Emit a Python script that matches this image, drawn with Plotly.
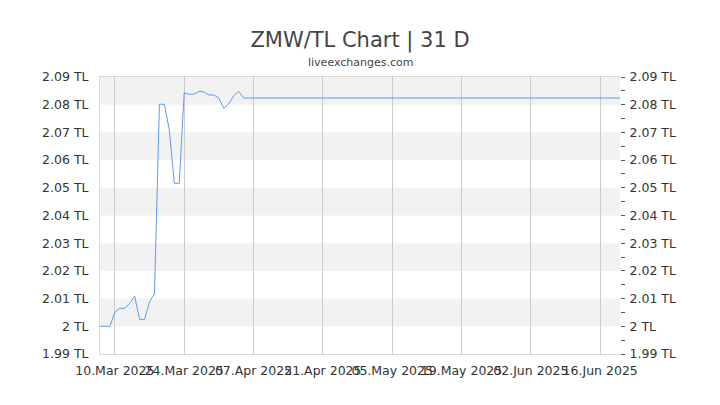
import plotly.graph_objects as go

# ZMW/TL daily rate
dates = [
    "2025-03-07", "2025-03-08", "2025-03-09", "2025-03-10", "2025-03-11",
    "2025-03-12", "2025-03-13", "2025-03-14", "2025-03-15", "2025-03-16",
    "2025-03-17", "2025-03-18", "2025-03-19", "2025-03-20", "2025-03-21",
    "2025-03-22", "2025-03-23", "2025-03-24", "2025-03-25", "2025-03-26",
    "2025-03-27", "2025-03-28", "2025-03-29", "2025-03-30", "2025-03-31",
    "2025-04-01", "2025-04-02", "2025-04-03", "2025-04-04", "2025-04-05",
    "2025-06-20",
]
rates = [
    2.0000, 2.0000, 2.0000, 2.0051, 2.0065,
    2.0065, 2.0083, 2.0109, 2.0025, 2.0025,
    2.0089, 2.0117, 2.0802, 2.0801, 2.0709,
    2.0516, 2.0516, 2.0843, 2.0838, 2.0838,
    2.0848, 2.0846, 2.0835, 2.0835, 2.0824,
    2.0787, 2.0803, 2.0832, 2.0848, 2.0824,
    2.0824,
]

x_ticks = ["2025-03-10", "2025-03-24", "2025-04-07", "2025-04-21",
           "2025-05-05", "2025-05-19", "2025-06-02", "2025-06-16"]
x_tick_labels = ["10.Mar 2025", "24.Mar 2025", "07.Apr 2025", "21.Apr 2025",
                 "05.May 2025", "19.May 2025", "02.Jun 2025", "16.Jun 2025"]
y_ticks = [1.99, 2.00, 2.01, 2.02, 2.03, 2.04, 2.05, 2.06, 2.07, 2.08, 2.09]
y_tick_labels = ["1.99 TL", "2 TL", "2.01 TL", "2.02 TL", "2.03 TL", "2.04 TL",
                 "2.05 TL", "2.06 TL", "2.07 TL", "2.08 TL", "2.09 TL"]
shaded_bands = [(2.00, 2.01), (2.02, 2.03), (2.04, 2.05), (2.06, 2.07), (2.08, 2.09)]

x_range = ["2025-03-07", "2025-06-20"]
y_range = [1.99, 2.09]

fig = go.Figure()
fig.add_trace(go.Scatter(
    x=dates, y=rates, mode="lines",
    line=dict(color="#5b9cee", width=1),
    hoverinfo="x+y", showlegend=False,
))
# invisible trace so the right axis gets drawn
fig.add_trace(go.Scatter(x=[dates[0]], y=[rates[0]], yaxis="y2",
                         mode="markers", marker=dict(opacity=0),
                         hoverinfo="skip", showlegend=False))

for lo, hi in shaded_bands:
    fig.add_shape(type="rect", xref="paper", yref="y", x0=0, x1=1, y0=lo, y1=hi,
                  fillcolor="#f2f2f2", line_width=0, layer="below")

tick_font = dict(family="DejaVu Sans", size=12.5, color="#333")

# the page puts the figure 8px in from the top-left, so margins are shifted by 8
fig.update_layout(
    width=720, height=405,
    margin=dict(l=92, r=108, t=69, b=59, autoexpand=False),
    paper_bgcolor="white", plot_bgcolor="white",
    font=dict(family="DejaVu Sans", color="#444"),
    title=dict(text="ZMW/TL Chart | 31 D", x=0.5 - 8 / 720, xanchor="center",
               y=1 - 32 / 405, yanchor="middle",
               font=dict(family="DejaVu Sans", size=21, color="#444")),
    annotations=[dict(text="liveexchanges.com", xref="paper", yref="paper",
                      x=0.5 - 8 / 520 + 0.5 * 16 / 520, y=1 + 14 / 277,
                      xanchor="center", yanchor="middle", showarrow=False,
                      font=dict(family="DejaVu Sans", size=11, color="#444"))],
    xaxis=dict(
        type="date", range=x_range, automargin=False, tickangle=0,
        tickvals=x_ticks, ticktext=x_tick_labels, tickfont=tick_font,
        showgrid=True, gridcolor="#cccccc", gridwidth=1,
        showline=True, linecolor="#d8d8d8", linewidth=1, mirror=True,
        ticks="", zeroline=False, ticklabelstandoff=5,
    ),
    yaxis=dict(
        range=y_range, tickvals=y_ticks, ticktext=y_tick_labels, automargin=False,
        tickfont=tick_font, showgrid=False, zeroline=False,
        showline=True, linecolor="#d8d8d8", linewidth=1,
        ticks="", ticklabelstandoff=8,
    ),
    yaxis2=dict(
        overlaying="y", side="right", range=y_range, automargin=False,
        tickvals=y_ticks, ticktext=y_tick_labels, tickfont=tick_font,
        showgrid=False, zeroline=False, showline=False,
        ticks="outside", ticklen=4, tickcolor="#555",
        minor=dict(ticks="outside", ticklen=4, tickcolor="#555", dtick=0.005,
                   showgrid=False),
        ticklabelstandoff=2,
    ),
)

fig.write_html("out.html")
